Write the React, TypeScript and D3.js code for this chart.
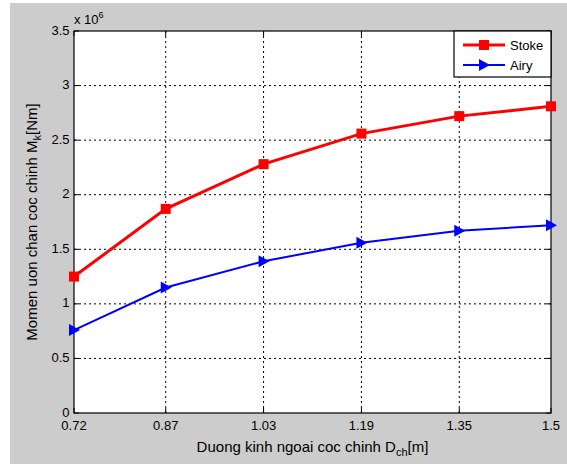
import * as d3 from "d3";

const diameters = [0.72, 0.87, 1.03, 1.19, 1.35, 1.5];
const stokeValues = [1.25, 1.87, 2.28, 2.56, 2.72, 2.81];
const airyValues = [0.76, 1.15, 1.39, 1.56, 1.67, 1.72];
const yTicks = [0, 0.5, 1, 1.5, 2, 2.5, 3, 3.5];

const W = 567;
const H = 464;
const left = 74;
const right = 551;
const top = 31;
const bottom = 413;

const x = d3.scaleLinear().domain([0.72, 1.5]).range([left, right]);
const y = d3.scaleLinear().domain([0, 3.5]).range([bottom, top]);

const font = "'Liberation Sans', Arial, sans-serif";

// line generator for both series
const makeLine = d3
  .line<number>()
  .x((_, i) => x(diameters[i]))
  .y((d) => y(d));

const triangle = (cx: number, cy: number, s: number) =>
  `M${cx - s * 0.5},${cy - s * 0.6}L${cx + s * 0.6},${cy}L${cx - s * 0.5},${cy + s * 0.6}Z`;

function App() {
  return (
    <svg
      width={W}
      height={H}
      style={{ position: "absolute", left: 0, top: 0 }}
      fontFamily={font}
    >
      <rect x={0} y={0} width={W} height={H} fill="#fff" />
      <rect x={10} y={3} width={W - 10} height={H - 3} fill="#cccccc" />
      <rect x={left} y={top} width={right - left} height={bottom - top} fill="#fff" />

      {/* grid */}
      {yTicks.slice(1, -1).map((t) => (
        <line
          key={"gy" + t}
          x1={left}
          x2={right}
          y1={y(t)}
          y2={y(t)}
          stroke="#000"
          strokeWidth={1}
          strokeDasharray="2,3"
        />
      ))}
      {diameters.slice(1, -1).map((d) => (
        <line
          key={"gx" + d}
          x1={x(d)}
          x2={x(d)}
          y1={top}
          y2={bottom}
          stroke="#000"
          strokeWidth={1}
          strokeDasharray="2,3"
        />
      ))}

      {/* ticks */}
      {yTicks.map((t) => (
        <g key={"ty" + t}>
          <line x1={left} x2={left + 5} y1={y(t)} y2={y(t)} stroke="#000" />
          <line x1={right} x2={right - 5} y1={y(t)} y2={y(t)} stroke="#000" />
          <text x={left - 4.5} y={y(t) + 3.5} fontSize={13} textAnchor="end" fill="#000">
            {t}
          </text>
        </g>
      ))}
      {diameters.map((d) => (
        <g key={"tx" + d}>
          <line x1={x(d)} x2={x(d)} y1={bottom} y2={bottom - 5} stroke="#000" />
          <line x1={x(d)} x2={x(d)} y1={top} y2={top + 5} stroke="#000" />
          <text x={x(d)} y={bottom + 16.5} fontSize={13} textAnchor="middle" fill="#000">
            {d}
          </text>
        </g>
      ))}

      <rect
        x={left}
        y={top}
        width={right - left}
        height={bottom - top}
        fill="none"
        stroke="#000"
        strokeWidth={1.2}
      />

      <text x={left} y={top - 7} fontSize={13} fill="#000">
        x 10
        <tspan dy={-6} fontSize={9}>
          6
        </tspan>
      </text>

      {/* series */}
      <path d={makeLine(airyValues) ?? ""} fill="none" stroke="#0000ff" strokeWidth={2} />
      {airyValues.map((v, i) => (
        <path key={"a" + i} d={triangle(x(diameters[i]), y(v), 10)} fill="#0000ff" />
      ))}
      <path d={makeLine(stokeValues) ?? ""} fill="none" stroke="#ff0000" strokeWidth={3} />
      {stokeValues.map((v, i) => (
        <rect
          key={"s" + i}
          x={x(diameters[i]) - 5}
          y={y(v) - 5}
          width={10}
          height={10}
          fill="#ff0000"
        />
      ))}

      {/* axis labels */}
      <text x={(left + right) / 2} y={452} fontSize={15} textAnchor="middle" fill="#000">
        Duong kinh ngoai coc chinh D
        <tspan dy={4} fontSize={11}>
          ch
        </tspan>
        <tspan dy={-4}>[m]</tspan>
      </text>
      <text
        transform={`translate(37,${(top + bottom) / 2}) rotate(-90)`}
        fontSize={15}
        textAnchor="middle"
        fill="#000"
      >
        Momen uon chan coc chinh M
        <tspan dy={4} fontSize={11}>
          k
        </tspan>
        <tspan dy={-4}>[Nm]</tspan>
      </text>

      {/* legend */}
      <g>
        <rect x={454} y={31} width={97} height={46} fill="#fff" stroke="#000" strokeWidth={1.2} />
        <line x1={463} x2={505} y1={45} y2={45} stroke="#ff0000" strokeWidth={3} />
        <rect x={479} y={40} width={10} height={10} fill="#ff0000" />
        <text x={510} y={50} fontSize={13} fill="#000">
          Stoke
        </text>
        <line x1={463} x2={505} y1={65} y2={65} stroke="#0000ff" strokeWidth={2} />
        <path d={triangle(484, 65, 10)} fill="#0000ff" />
        <text x={510} y={70} fontSize={13} fill="#000">
          Airy
        </text>
      </g>
    </svg>
  );
}

export default App;
